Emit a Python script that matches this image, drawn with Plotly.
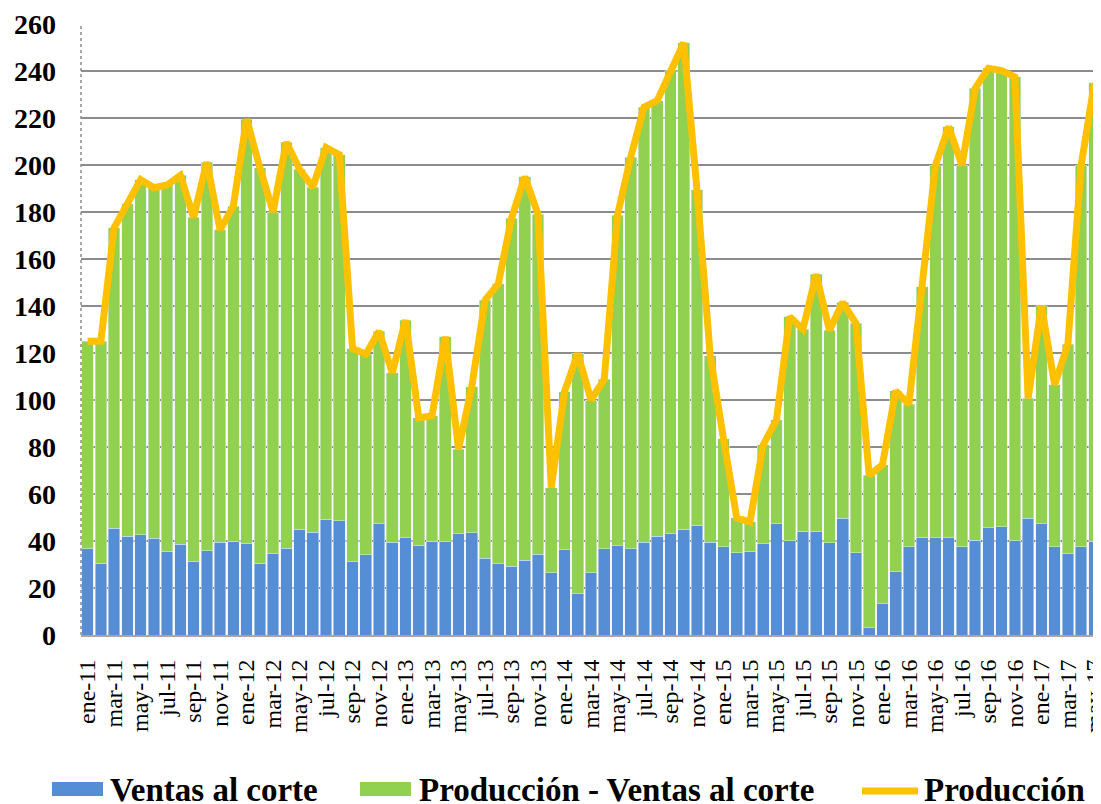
import plotly.graph_objects as go

# meses ene-11 .. may-17
meses = ["ene", "feb", "mar", "abr", "may", "jun", "jul", "ago", "sep", "oct", "nov", "dic"]
anios = ["11", "12", "13", "14", "15", "16", "17"]
periodos = [f"{m}-{a}" for a in anios for m in meses][:77]

# Ventas al corte (parte azul)
ventas = [36.6, 30.5, 45.5, 42.1, 42.7, 41.2, 35.6, 38.6, 31.3, 35.9, 39.5, 39.8,
          38.8, 30.6, 34.7, 37.0, 45.1, 43.7, 49.2, 48.7, 31.3, 34.2, 47.3, 39.5,
          41.4, 38.1, 39.8, 39.6, 43.0, 43.5, 32.7, 30.4, 29.2, 31.9, 34.3, 26.4,
          36.3, 17.5, 26.4, 36.6, 37.9, 36.6, 39.5, 42.1, 43.0, 45.1, 46.7, 39.5,
          37.5, 34.9, 35.6, 38.8, 47.3, 40.2, 44.1, 44.1, 39.3, 49.6, 34.9, 3.0,
          13.3, 26.9, 37.5, 41.6, 41.4, 41.4, 37.5, 40.4, 45.7, 46.0, 40.2, 49.6,
          47.4, 37.5, 34.5, 37.5, 39.8]

# Produccion total (linea)
produccion = [125.0, 125.0, 173.3, 183.5, 193.8, 190.3, 191.5, 195.6, 177.7, 201.2, 172.4, 182.5,
              219.5, 198.9, 180.0, 209.7, 198.2, 190.6, 207.4, 204.4, 121.9, 119.5, 129.2, 111.5,
              134.0, 92.4, 93.3, 126.9, 79.1, 105.7, 142.5, 149.4, 177.3, 195.0, 179.1, 62.7,
              103.5, 119.8, 100.0, 108.8, 178.6, 203.4, 224.6, 227.4, 240.2, 252.0, 189.4, 118.9,
              83.5, 49.9, 48.1, 80.9, 91.5, 135.4, 130.1, 153.5, 129.6, 141.6, 132.6, 68.0,
              72.4, 103.9, 98.2, 148.1, 199.8, 216.3, 199.8, 232.6, 241.1, 240.2, 237.5, 100.7,
              140.2, 106.5, 123.7, 199.8, 234.9]

diferencia = [p - v for p, v in zip(produccion, ventas)]

AZUL = "#558ED5"
VERDE = "#92D050"
AMARILLO = "#FFC000"
FUENTE = "Liberation Serif, Times New Roman, serif"

fig = go.Figure()
fig.add_trace(go.Bar(x=periodos, y=ventas, name="Ventas al corte", marker_color=AZUL))
fig.add_trace(go.Bar(x=periodos, y=diferencia, name="Producción - Ventas al corte", marker_color=VERDE))
fig.add_trace(go.Scatter(x=periodos, y=produccion, name="Producción", mode="lines",
                         line=dict(color=AMARILLO, width=7)))

# la pagina tiene 8px de margen en el body: la figura se dibuja 8px mas chica
fig.update_layout(
    width=1093, height=796,
    margin=dict(l=73, r=0, t=16, b=169, autoexpand=False),
    barmode="stack", bargap=0.12,
    plot_bgcolor="white", paper_bgcolor="white",
    showlegend=False,
    font=dict(family=FUENTE, color="black"),
)

fig.update_xaxes(
    type="category", automargin=False,
    tickmode="array", tickvals=periodos[::2], ticktext=periodos[::2],
    tickangle=-90, tickfont=dict(family=FUENTE, size=24, color="black"),
    ticklabelstandoff=13,
    showline=True, linecolor="#a6a6a6", linewidth=2,
    showgrid=False, ticks="",
)
fig.update_yaxes(
    range=[0, 260], dtick=20, automargin=False,
    tickfont=dict(family=FUENTE, size=28, color="black", weight="bold"),
    ticklabelstandoff=24,
    showgrid=True, gridcolor="#8c8c8c", gridwidth=1.5,
    zeroline=False, ticks="",
)

# eje vertical punteado
fig.add_shape(type="line", xref="paper", yref="paper", x0=0, x1=0, y0=0, y1=1,
              line=dict(color="#8c8c8c", width=1.5, dash="dot"))

# leyenda manual (pixeles de la referencia -> papel)
def px_x(x):
    return (x - 81) / 1020

def px_y(y):
    return (635 - y) / 611

ley_y = 789
items = [
    ("rect", AZUL, 52, 103, 108, "Ventas al corte"),
    ("rect", VERDE, 360, 411, 417, "Producción - Ventas al corte"),
    ("line", AMARILLO, 862, 918, 922, "Producción"),
]
for tipo, color, x0, x1, xt, texto in items:
    if tipo == "rect":
        fig.add_shape(type="rect", xref="paper", yref="paper",
                      x0=px_x(x0), x1=px_x(x1), y0=px_y(ley_y - 7), y1=px_y(ley_y + 7),
                      fillcolor=color, line=dict(width=0))
    else:
        fig.add_shape(type="line", xref="paper", yref="paper",
                      x0=px_x(x0), x1=px_x(x1), y0=px_y(ley_y + 2), y1=px_y(ley_y + 2),
                      line=dict(color=color, width=7))
    fig.add_annotation(x=px_x(xt), y=px_y(ley_y + 1), xref="paper", yref="paper",
                       xanchor="left", yanchor="middle", showarrow=False,
                       text=f"<b>{texto}</b>",
                       font=dict(family=FUENTE, size=33, color="black"))

fig.write_html("out.html")
